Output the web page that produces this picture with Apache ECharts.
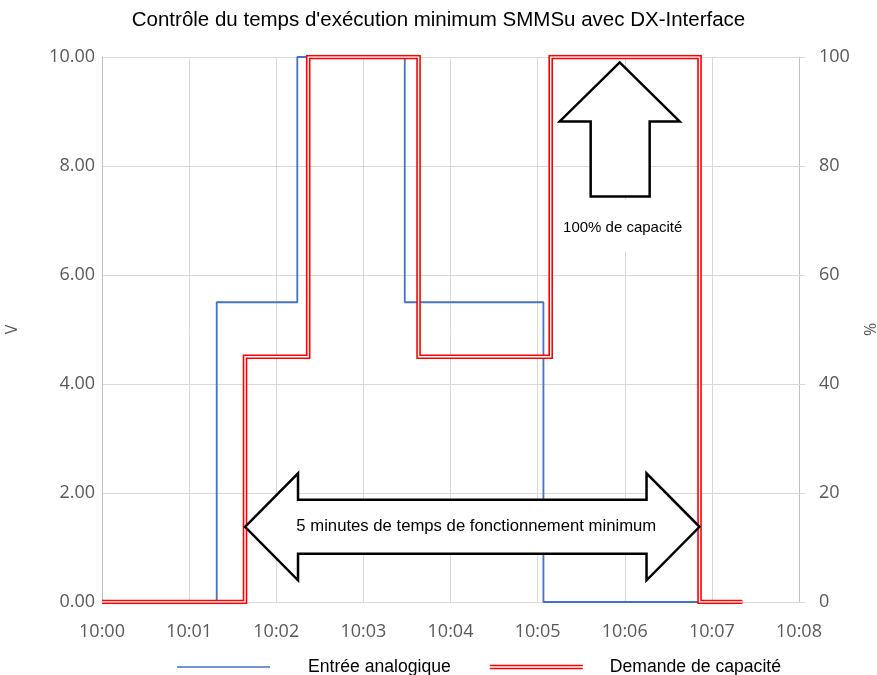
<!DOCTYPE html>
<html>
<head>
<meta charset="utf-8">
<script src="https://cdn.jsdelivr.net/npm/echarts@6/dist/echarts.min.js"></script>
<style>
  html, body { margin: 0; padding: 0; background: #ffffff; }
  #chart { width: 877px; height: 675px; }
</style>
</head>
<body>
<div id="chart"></div>
<script>
// Seconds after 10:00 at which each level starts, and the level held from then on
const blueTimes = [0, 79, 134.5, 208.5, 304, 441];
const blueValues = [0, 5.5, 10, 5.5, 0, 0];        // V
const redTimes = [0, 98.5, 142, 218, 309, 411.5, 441];
const redValues = [0, 45, 100, 45, 100, 0, 0];     // %

const xTickLabels = ['10:00', '10:01', '10:02', '10:03', '10:04', '10:05', '10:06', '10:07', '10:08'];
const seriesNames = ['Entrée analogique', 'Demande de capacité'];

const pairs = (xs, ys) => xs.map((x, i) => [x, ys[i]]);

const axisGrey = '#595959';
const gridGrey = '#d9d9d9';
const tickFont = { color: axisGrey, fontSize: 18, fontFamily: 'Open Sans' };

const chart = echarts.init(document.getElementById('chart'), null, { renderer: 'canvas' });

chart.setOption({
  animation: false,
  backgroundColor: '#ffffff',
  title: {
    text: "Contrôle du temps d'exécution minimum SMMSu avec DX-Interface",
    left: 'center',
    top: 5,
    textStyle: { color: '#000000', fontSize: 20.5, fontWeight: 'normal', fontFamily: 'Liberation Sans' }
  },
  grid: { left: 102, right: 78, top: 57, bottom: 73, containLabel: false, outerBoundsMode: 'none' },
  legend: {
    left: 172,
    top: 653,
    itemWidth: 93,
    itemHeight: 5,
    itemGap: 39,
    textStyle: { color: '#000000', fontSize: 17.6, fontFamily: 'Liberation Sans', padding: [0, 0, 0, 33] },
    data: [
      { name: seriesNames[0], icon: 'path://M0,0M0,1.8H100V3.4H0ZM100,5', itemStyle: { borderWidth: 0 } },
      {
        name: seriesNames[1],
        icon: 'path://M0,0H100V1.7H0ZM0,3.3H100V5H0Z',
        itemStyle: { borderWidth: 0 },
        textStyle: { padding: [0, 0, 0, 22] }
      }
    ]
  },
  xAxis: {
    type: 'value',
    min: 0,
    max: 480,
    interval: 60,
    axisLine: { show: true, lineStyle: { color: gridGrey, width: 1 } },
    axisTick: { show: false },
    splitLine: { show: true, lineStyle: { color: gridGrey, width: 1 } },
    axisLabel: Object.assign({ margin: 21, formatter: v => xTickLabels[Math.round(v / 60)] }, tickFont)
  },
  yAxis: [
    {
      type: 'value',
      min: 0,
      max: 10,
      interval: 2,
      name: 'V',
      nameLocation: 'middle',
      nameGap: 82,
      nameTextStyle: { color: axisGrey, fontSize: 16, fontFamily: 'Open Sans' },
      axisLine: { show: true, lineStyle: { color: '#bfbfbf', width: 1 } },
      axisTick: { show: false },
      splitLine: { show: true, lineStyle: { color: gridGrey, width: 1 } },
      axisLabel: Object.assign({ margin: 7, formatter: v => v.toFixed(2) }, tickFont)
    },
    {
      type: 'value',
      min: 0,
      max: 100,
      interval: 20,
      name: '%',
      nameLocation: 'middle',
      nameGap: 64,
      nameTextStyle: { color: axisGrey, fontSize: 16, fontFamily: 'Open Sans' },
      axisLine: { show: true, lineStyle: { color: '#bfbfbf', width: 1 } },
      axisTick: { show: true, length: 6, lineStyle: { color: gridGrey, width: 1 } },
      splitLine: { show: false },
      axisLabel: Object.assign({ margin: 20 }, tickFont)
    }
  ],
  series: [
    {
      name: seriesNames[0],
      type: 'line',
      step: 'end',
      yAxisIndex: 0,
      symbol: 'none',
      color: '#4472C4',
      lineStyle: { color: '#4472C4', width: 1.8 },
      data: pairs(blueTimes, blueValues),
      z: 3
    },
    {
      name: seriesNames[1],
      type: 'line',
      step: 'end',
      yAxisIndex: 1,
      symbol: 'none',
      color: '#FF0000',
      lineStyle: { color: '#FF0000', width: 4.6, join: 'miter' },
      data: pairs(redTimes, redValues),
      z: 4
    },
    {
      // white core that turns the red trace into a double line
      name: 'core',
      type: 'line',
      step: 'end',
      yAxisIndex: 1,
      symbol: 'none',
      silent: true,
      color: '#ffffff',
      lineStyle: { color: '#ffffff', width: 1.4, join: 'miter' },
      data: pairs(redTimes, redValues),
      z: 5
    }
  ]
});

// Callout shapes, anchored to the chart's own coordinates
function drawCallouts() {
  const px = (t, v) => chart.convertToPixel({ seriesIndex: 0 }, [t, v]);

  // double-headed arrow spanning the red run from its rise to its final drop
  const left = px(redTimes[1], 1.38);
  const right = px(redTimes[5], 1.38);
  const cy = left[1];
  const head = 53, headH = 53.5, shaftH = 27;
  const hArrow = [
    [left[0], cy],
    [left[0] + head, cy - headH],
    [left[0] + head, cy - shaftH],
    [right[0] - head, cy - shaftH],
    [right[0] - head, cy - headH],
    [right[0], cy],
    [right[0] - head, cy + headH],
    [right[0] - head, cy + shaftH],
    [left[0] + head, cy + shaftH],
    [left[0] + head, cy + headH]
  ];

  // upward arrow over the second full-capacity period
  const tip = px(356.5, 9.9);
  const tx = tip[0], ty = tip[1];
  const uArrow = [
    [tx, ty],
    [tx + 60, ty + 59],
    [tx + 30, ty + 59],
    [tx + 30, ty + 134],
    [tx - 29, ty + 134],
    [tx - 29, ty + 59],
    [tx - 60, ty + 59]
  ];

  chart.setOption({
    graphic: [
      {
        type: 'polygon',
        z: 100,
        shape: { points: hArrow },
        style: { fill: '#ffffff', stroke: '#000000', lineWidth: 2.5, lineJoin: 'miter' }
      },
      {
        type: 'text',
        z: 101,
        x: (left[0] + right[0]) / 2 + 4,
        y: cy,
        style: {
          text: '5 minutes de temps de fonctionnement minimum',
          fill: '#000000',
          fontSize: 16.7,
          fontFamily: 'Liberation Sans',
          align: 'center',
          verticalAlign: 'middle'
        }
      },
      {
        type: 'polygon',
        z: 100,
        shape: { points: uArrow },
        style: { fill: '#ffffff', stroke: '#000000', lineWidth: 2.5, lineJoin: 'miter' }
      },
      {
        type: 'rect',
        z: 100,
        shape: { x: tx - 64, y: ty + 137, width: 130, height: 52 },
        style: { fill: '#ffffff' }
      },
      {
        type: 'text',
        z: 101,
        x: tx + 3,
        y: ty + 165,
        style: {
          text: '100% de capacité',
          fill: '#000000',
          fontSize: 15,
          fontFamily: 'Liberation Sans',
          align: 'center',
          verticalAlign: 'middle'
        }
      }
    ]
  });
}

drawCallouts();
</script>
</body>
</html>
